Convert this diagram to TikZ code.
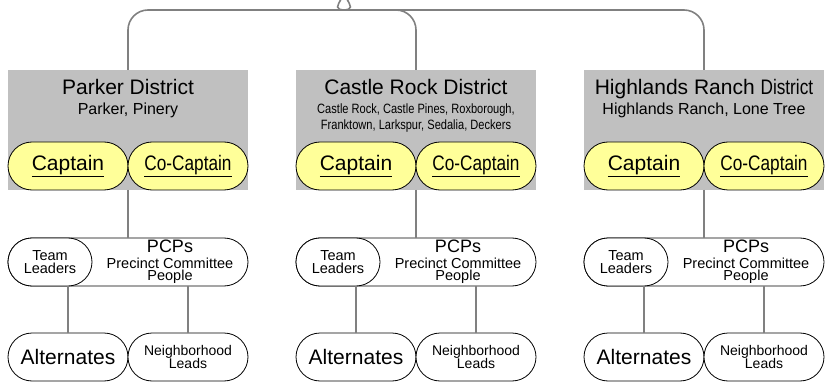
\documentclass[tikz,border=0pt]{standalone}
\usepackage{fontspec}
\setmainfont{Liberation Sans}
\newfontfamily\narrowsf[FakeStretch=0.82]{Liberation Sans}
\usetikzlibrary{positioning}
\definecolor{distgray}{HTML}{C0C0C0}
\definecolor{captyellow}{HTML}{FFFF99}
\definecolor{linkgray}{HTML}{808080}

\begin{document}
\begin{tikzpicture}[
  x=1pt, y=-1pt,
  district/.style={fill=distgray, minimum width=240pt, minimum height=120pt, inner sep=0pt, outer sep=0pt},
  title/.style={anchor=base, inner sep=0pt, font=\fontsize{21}{24}\selectfont},
  towns/.style={anchor=base, inner sep=0pt, font=\fontsize{16}{18}\selectfont},
  smalltowns/.style={anchor=north, inner sep=0pt, align=center, font=\narrowsf\fontsize{13.5}{16}\selectfont},
  capt/.style={draw, fill=captyellow, rounded corners=24pt, minimum width=120pt, minimum height=48pt, inner sep=0pt, outer sep=0pt, line width=0.8pt, font=\fontsize{21}{24}\selectfont},
  pill/.style={draw, fill=white, rounded corners=24pt, minimum height=48pt, inner sep=0pt, outer sep=0pt, line width=0.8pt, align=center},
  pcptext/.style={inner sep=0pt, align=center, font=\fontsize{14.5}{12.5}\selectfont},
  teamfont/.style={font=\fontsize{14.5}{13.5}\selectfont},
  altfont/.style={font=\fontsize{21}{24}\selectfont},
  nbrfont/.style={font=\fontsize{14}{13.5}\selectfont},
  link/.style={draw=linkgray, line width=1.6pt}
]
  \useasboundingbox (0,0) rectangle (825,385);

  % district boxes
  \node[district] (pbox) at (128,130) {};
  \node[district, right=48pt of pbox] (cbox) {};
  \node[district, right=48pt of cbox] (hbox) {};

  \node[title] (ptitle) at ([yshift=-25pt]pbox.north) {Parker District};
  \node[towns] (ptowns) at ([yshift=-45pt]pbox.north) {Parker, Pinery};
  \node[title] (ctitle) at ([yshift=-25pt]cbox.north) {Castle Rock District};
  \node[smalltowns] (ctowns) at ([yshift=-33.5pt]cbox.north) {Castle Rock, Castle Pines, Roxborough,\\Franktown, Larkspur, Sedalia, Deckers};
  \node[title] (htitle) at ([yshift=-25pt]hbox.north) {Highlands Ranch {\narrowsf District}};
  \node[towns] (htowns) at ([yshift=-45pt]hbox.north) {Highlands Ranch, Lone Tree};

  % brace on top
  \coordinate (tipL) at (341,-1);
  \coordinate (tipR) at (347,-1);
  \coordinate (armL) at (326,10);
  \coordinate (armR) at (362,10);
  \draw[link, rounded corners=20pt] (pbox.north) |- (armL) to[out=0,in=-115] (tipL);
  \draw[link, rounded corners=20pt] (tipR) to[out=-65,in=180] (armR) -| (hbox.north);
  \draw[link, rounded corners=20pt] (armR) -| (cbox.north);

  % Parker
  \node[capt, anchor=south east] (pcapt) at (pbox.south) {\underline{Captain}};
  \node[capt, anchor=south west] (pcoc) at (pbox.south) {\underline{\narrowsf Co-Captain}};
  \node[pill, minimum width=240pt, below=48pt of pbox] (ppcp) {};
  \node[pill, teamfont, minimum width=84pt, anchor=west] (pteam) at (ppcp.west) {Team\\Leaders};
  \node[pcptext] (ptxt) at ([xshift=42pt]ppcp.center) {{\fontsize{18}{18}\selectfont PCPs}\\[3pt]Precinct Committee\\People};
  \node[pill, altfont, minimum width=120pt, below=47pt of ppcp.south, anchor=north east] (palt) {Alternates};
  \node[pill, nbrfont, minimum width=120pt, below=47pt of ppcp.south, anchor=north west] (pnbr) {Neighborhood\\Leads};
  \draw[link] (pbox.south) -- (ppcp.north);
  \draw[link] (palt.north) -- (palt.north |- ppcp.south);
  \draw[link] (pnbr.north) -- (pnbr.north |- ppcp.south);

  % Castle Rock
  \node[capt, anchor=south east] (ccapt) at (cbox.south) {\underline{Captain}};
  \node[capt, anchor=south west] (ccoc) at (cbox.south) {\underline{\narrowsf Co-Captain}};
  \node[pill, minimum width=240pt, below=48pt of cbox] (cpcp) {};
  \node[pill, teamfont, minimum width=84pt, anchor=west] (cteam) at (cpcp.west) {Team\\Leaders};
  \node[pcptext] (ctxt) at ([xshift=42pt]cpcp.center) {{\fontsize{18}{18}\selectfont PCPs}\\[3pt]Precinct Committee\\People};
  \node[pill, altfont, minimum width=120pt, below=47pt of cpcp.south, anchor=north east] (calt) {Alternates};
  \node[pill, nbrfont, minimum width=120pt, below=47pt of cpcp.south, anchor=north west] (cnbr) {Neighborhood\\Leads};
  \draw[link] (cbox.south) -- (cpcp.north);
  \draw[link] (calt.north) -- (calt.north |- cpcp.south);
  \draw[link] (cnbr.north) -- (cnbr.north |- cpcp.south);

  % Highlands Ranch
  \node[capt, anchor=south east] (hcapt) at (hbox.south) {\underline{Captain}};
  \node[capt, anchor=south west] (hcoc) at (hbox.south) {\underline{\narrowsf Co-Captain}};
  \node[pill, minimum width=240pt, below=48pt of hbox] (hpcp) {};
  \node[pill, teamfont, minimum width=84pt, anchor=west] (hteam) at (hpcp.west) {Team\\Leaders};
  \node[pcptext] (htxt) at ([xshift=42pt]hpcp.center) {{\fontsize{18}{18}\selectfont PCPs}\\[3pt]Precinct Committee\\People};
  \node[pill, altfont, minimum width=120pt, below=47pt of hpcp.south, anchor=north east] (halt) {Alternates};
  \node[pill, nbrfont, minimum width=120pt, below=47pt of hpcp.south, anchor=north west] (hnbr) {Neighborhood\\Leads};
  \draw[link] (hbox.south) -- (hpcp.north);
  \draw[link] (halt.north) -- (halt.north |- hpcp.south);
  \draw[link] (hnbr.north) -- (hnbr.north |- hpcp.south);
\end{tikzpicture}
\end{document}
